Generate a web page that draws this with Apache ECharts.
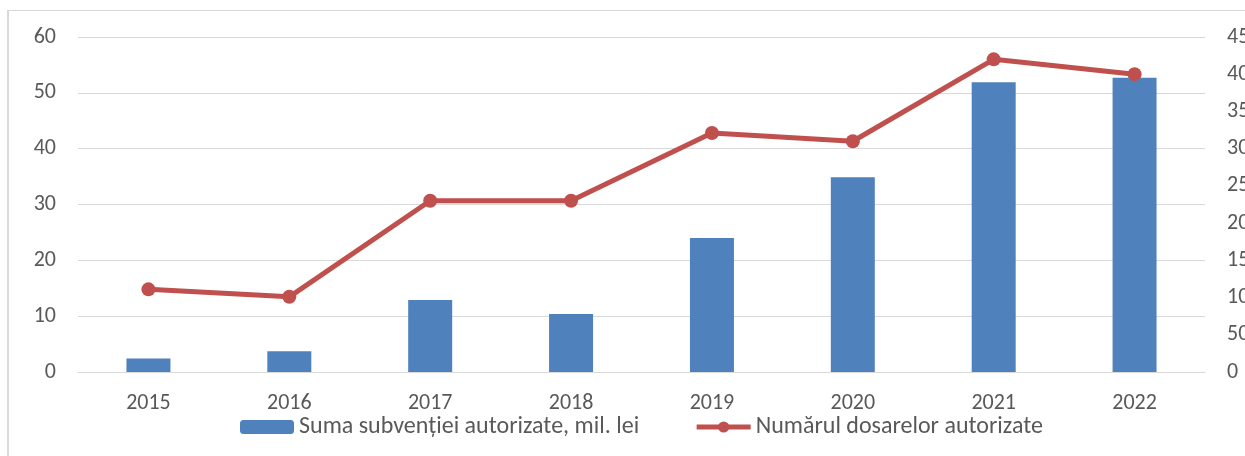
<!DOCTYPE html>
<html>
<head>
<meta charset="utf-8">
<script src="https://cdn.jsdelivr.net/npm/echarts@6/dist/echarts.min.js"></script>
<style>
  html, body { margin: 0; padding: 0; background: #fff; overflow: hidden; width: 1245px; height: 456px; }
  #frame {
    position: absolute; left: 7px; top: 10px; width: 1238px; height: 446px;
    border-left: 2px solid #d9d9d9; border-top: 1px solid #d9d9d9; box-sizing: border-box;
  }
  #chart { position: absolute; left: 0; top: 0; width: 1245px; height: 456px; }
</style>
</head>
<body>
<div id="frame"></div>
<div id="chart"></div>
<script>
// data
const years = ['2015', '2016', '2017', '2018', '2019', '2020', '2021', '2022'];
const subventii = [2.4, 3.7, 12.9, 10.4, 24.0, 34.9, 51.9, 52.7];
const dosare = [111, 101, 230, 230, 321, 310, 420, 400];
const seriesNames = ['Suma subvenției autorizate, mil. lei', 'Numărul dosarelor autorizate'];

const chart = echarts.init(document.getElementById('chart'));
const font = 'Carlito, Lato, "Open Sans", sans-serif';

chart.setOption({
  animation: false,
  textStyle: { fontFamily: font },
  grid: { left: 78, right: 40, top: 37, bottom: 84, containLabel: false, outerBoundsMode: 'none' },
  legend: {
    data: [
      { name: seriesNames[0] },
      { name: seriesNames[1], lineStyle: { width: 5 } }
    ],
    top: 410,
    left: 235,
    itemWidth: 54,
    itemHeight: 14,
    itemGap: 55,
    textStyle: { color: '#595959', fontSize: 24, fontFamily: font }
  },
  xAxis: {
    type: 'category',
    data: years,
    axisLine: { lineStyle: { color: '#d9d9d9', width: 1 } },
    axisTick: { show: false },
    axisLabel: { color: '#595959', fontSize: 22, margin: 20 }
  },
  yAxis: [
    {
      type: 'value', min: 0, max: 60, interval: 10,
      axisLine: { show: false }, axisTick: { show: false },
      axisLabel: { color: '#595959', fontSize: 22, margin: 22 },
      splitLine: { lineStyle: { color: '#d9d9d9', width: 1 } }
    },
    {
      type: 'value', min: 0, max: 450, interval: 50,
      axisLine: { show: false }, axisTick: { show: false },
      axisLabel: { color: '#595959', fontSize: 22, margin: 22 },
      splitLine: { show: false }
    }
  ],
  series: [
    {
      name: seriesNames[0],
      type: 'bar',
      data: subventii,
      yAxisIndex: 0,
      barWidth: 44,
      itemStyle: { color: '#4F81BD' }
    },
    {
      name: seriesNames[1],
      type: 'line',
      data: dosare,
      yAxisIndex: 1,
      symbol: 'circle',
      symbolSize: 14,
      lineStyle: { color: '#C0504D', width: 5 },
      itemStyle: { color: '#C0504D' }
    }
  ]
});
</script>
</body>
</html>
